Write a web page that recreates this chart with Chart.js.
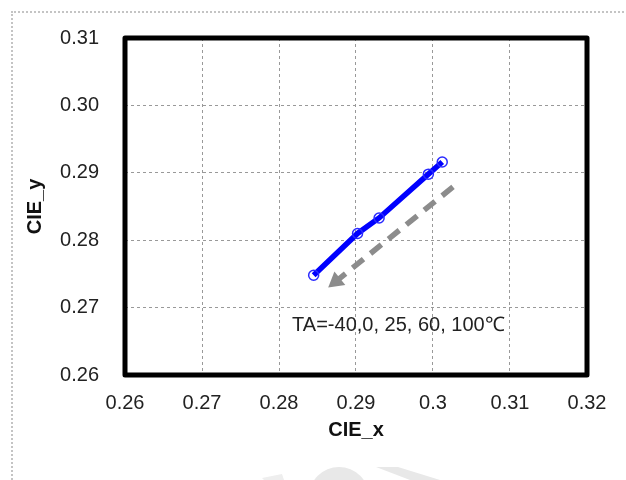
<!DOCTYPE html>
<html>
<head>
<meta charset="utf-8">
<script src="https://cdn.jsdelivr.net/npm/chart.js@4"></script>
<style>
  html, body { margin: 0; padding: 0; background: #fff; overflow: hidden; }
  #wrap { position: relative; width: 626px; height: 480px; }
  #frame { position: absolute; left: 11px; top: 11px; width: 700px; height: 600px;
           border: 2px dotted #c4c4c4; box-sizing: border-box; }
  #mark { position: absolute; left: 0; top: 0; }
  canvas { position: absolute; left: 0; top: 0; }
</style>
</head>
<body>
<div id="wrap">
  <div id="frame"></div>
  <svg id="mark" width="626" height="480">
    <circle cx="339" cy="497" r="30" fill="#e8e8e8"/>
    <polygon points="376,467 398,467 440,480 410,480" fill="#e8e8e8"/>
    <polygon points="262,478 282,474 284,480 264,480" fill="#eeeeee"/>
  </svg>
  <canvas id="c" width="626" height="480"></canvas>
</div>
<script>
// --- data ---
const cieX = [0.2845, 0.2902, 0.2930, 0.2994, 0.3012];
const cieY = [0.2748, 0.2810, 0.2833, 0.2898, 0.2916];

// dashed arrow: start of shaft, centre of the head
const arrowX = [0.3026, 0.2874];
const arrowY = [0.2879, 0.2739];

const xTicks = [0.26, 0.27, 0.28, 0.29, 0.30, 0.31, 0.32];
const xTickLabels = ['0.26', '0.27', '0.28', '0.29', '0.3', '0.31', '0.32'];
const yTicks = [0.26, 0.27, 0.28, 0.29, 0.30, 0.31];
const yTickLabels = ['0.26', '0.27', '0.28', '0.29', '0.30', '0.31'];

const noteText = 'TA=-40,0, 25, 60, 100\u2103';
const noteX = 0.2817;
const noteY = 0.2666;

const FONT = "'Liberation Sans', Arial, sans-serif";
const GRAY = '#8c8c8c';

// thick black frame round the plot area
const frameBox = {
  id: 'frameBox',
  beforeDatasetsDraw(chart) {
    const a = chart.chartArea;
    const ctx = chart.ctx;
    ctx.save();
    ctx.strokeStyle = '#000';
    ctx.lineWidth = 5;
    ctx.lineJoin = 'round';
    ctx.strokeRect(a.left, a.top, a.right - a.left, a.bottom - a.top);
    ctx.restore();
  }
};

// TA note inside the plot
const note = {
  id: 'note',
  afterDatasetsDraw(chart) {
    const ctx = chart.ctx;
    const x = chart.scales.x.getPixelForValue(noteX);
    const y = chart.scales.y.getPixelForValue(noteY);
    ctx.save();
    ctx.font = '20px ' + FONT;
    ctx.fillStyle = '#222';
    ctx.textBaseline = 'alphabetic';
    ctx.textAlign = 'left';
    ctx.fillText(noteText, x, y);
    ctx.restore();
  }
};

new Chart(document.getElementById('c'), {
  type: 'scatter',
  data: {
    datasets: [
      {
        data: [{ x: arrowX[1], y: arrowY[1] }],
        pointStyle: 'triangle',
        rotation: 231,
        pointRadius: 10,
        backgroundColor: GRAY,
        borderColor: GRAY,
        borderWidth: 0
      },
      {
        data: arrowX.map((x, i) => ({ x, y: arrowY[i] })),
        showLine: true,
        borderColor: GRAY,
        borderWidth: 5.5,
        borderDash: [14, 9],
        pointRadius: 0
      },
      {
        data: cieX.map((x, i) => ({ x, y: cieY[i] })),
        showLine: true,
        borderColor: '#0000ff',
        borderWidth: 5.5,
        pointRadius: 5,
        pointBorderWidth: 1.5,
        pointBorderColor: '#2a2aff',
        pointBackgroundColor: 'rgba(0,0,0,0)',
        tension: 0
      }
    ]
  },
  options: {
    responsive: false,
    animation: false,
    layout: { padding: { left: 0, top: 37, right: 39, bottom: 0 } },
    plugins: { legend: { display: false }, tooltip: { enabled: false } },
    scales: {
      x: {
        type: 'linear',
        min: 0.26,
        max: 0.32,
        afterBuildTicks: s => { s.ticks = xTicks.map(v => ({ value: v })); },
        afterFit: s => { s.height = 105; },
        ticks: {
          padding: 16,
          color: '#222',
          font: { family: FONT, size: 20 },
          maxRotation: 0,
          callback: (v, i) => xTickLabels[i]
        },
        grid: { color: '#999', lineWidth: 1, drawTicks: false },
        border: { display: false, dash: [3, 3] },
        title: {
          display: true,
          text: 'CIE_x',
          color: '#111',
          font: { family: FONT, size: 20, weight: 'bold' },
          padding: { top: 0, bottom: 38 }
        }
      },
      y: {
        type: 'linear',
        min: 0.26,
        max: 0.31,
        afterBuildTicks: s => { s.ticks = yTicks.map(v => ({ value: v })); },
        afterFit: s => { s.width = 125; },
        ticks: {
          padding: 26,
          color: '#222',
          font: { family: FONT, size: 20 },
          callback: (v, i) => yTickLabels[i]
        },
        grid: { color: '#999', lineWidth: 1, drawTicks: false },
        border: { display: false, dash: [3, 3] },
        title: {
          display: true,
          text: 'CIE_y',
          color: '#111',
          font: { family: FONT, size: 20, weight: 'bold' },
          padding: { top: 23, bottom: 0 }
        }
      }
    }
  },
  plugins: [frameBox, note]
});
</script>
</body>
</html>
